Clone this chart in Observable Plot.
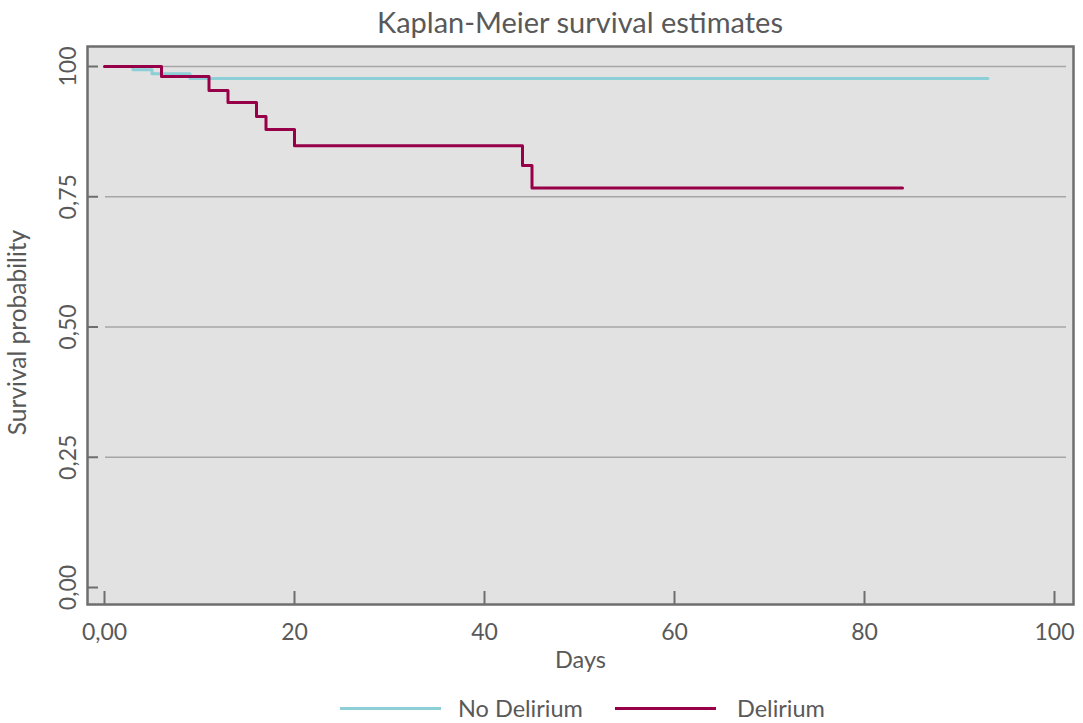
<!DOCTYPE html>
<html><head><meta charset="utf-8">
<script src="https://cdn.jsdelivr.net/npm/d3@7"></script>
<script src="https://cdn.jsdelivr.net/npm/@observablehq/plot@0.6"></script>
<style>
body{margin:0;background:#fff;font-family:Lato,sans-serif;color:#595959;width:1083px;height:723px;position:relative;overflow:hidden}
#title{position:absolute;left:87px;width:986px;top:0;height:44px;line-height:44px;text-align:center;font-size:29px;color:#595959}
#chart{position:absolute;left:0;top:40px}
#legend{position:absolute;top:694px;left:0;width:1083px;height:28px;font-size:23.5px;color:#595959}
.sw{position:absolute;top:13px;width:101px;height:3px}
.lt{position:absolute;top:0;line-height:28px;white-space:nowrap}
</style></head>
<body>
<div id="title">Kaplan-Meier survival estimates</div>
<div id="chart"></div>
<div id="legend"></div>
<script>
const xTicks = [0, 20, 40, 60, 80, 100];
const xTickLabels = ["0,00", "20", "40", "60", "80", "100"];
const yTicks = [0, 0.25, 0.5, 0.75, 1];
const yTickLabels = ["0,00", "0,25", "0,50", "0,75", "100"];
const gridValues = [0.25, 0.5, 0.75, 1];
const groups = ["No Delirium", "Delirium"];
const colors = ["#8ccfd6", "#970048"];
const noDelDays = [0, 3, 5, 9, 93];
const noDelSurv = [1, 0.994, 0.986, 0.977, 0.977];
const delDays = [0, 6, 11, 13, 16, 17, 20, 44, 45, 84];
const delSurv = [1, 0.981, 0.954, 0.931, 0.904, 0.879, 0.848, 0.810, 0.767, 0.767];

const rows = [
  ...noDelDays.map((d, i) => ({group: groups[0], day: d, surv: noDelSurv[i]})),
  ...delDays.map((d, i) => ({group: groups[1], day: d, surv: delSurv[i]}))
];

const axisColor = "#6e6e6e";
const textColor = "#595959";

const chart = Plot.plot({
  width: 1083, height: 640,
  marginLeft: 87, marginRight: 10, marginTop: 6, marginBottom: 76,
  x: {domain: [-1.79, 102], axis: null},
  y: {domain: [-0.0326, 1.0384], axis: null},
  color: {domain: groups, range: colors},
  style: {fontFamily: "Lato, sans-serif", fontSize: "22px", color: textColor, background: "transparent"},
  marks: [
    Plot.frame({fill: "#e2e2e2"}),
    Plot.ruleY(gridValues, {stroke: "#a6a6a6", strokeWidth: 1.3, insetLeft: 18, insetRight: 7}),
    Plot.ruleY(yTicks, {stroke: axisColor, strokeWidth: 2, insetRight: 975}),
    Plot.ruleX(xTicks, {stroke: axisColor, strokeWidth: 2, insetTop: 545}),
    Plot.line(rows, {x: "day", y: "surv", stroke: "group", z: "group", curve: "step-after", strokeWidth: 3}),
    Plot.frame({stroke: axisColor, strokeWidth: 2.5}),
    Plot.text(yTicks, {y: d => d, text: (d, i) => yTickLabels[i], frameAnchor: "left", rotate: -90, dx: -19, textAnchor: "middle", lineAnchor: "middle", fill: textColor, fontSize: 23}),
    Plot.text(xTicks, {x: d => d, text: (d, i) => xTickLabels[i], frameAnchor: "bottom", dy: 28, lineAnchor: "middle", fill: textColor, fontSize: 23}),
    Plot.text(["Days"], {frameAnchor: "bottom", dy: 56, lineAnchor: "middle", fill: textColor, fontSize: 23.5}),
    Plot.text(["Survival probability"], {frameAnchor: "left", rotate: -90, dx: -69, dy: 7, textAnchor: "middle", lineAnchor: "middle", fill: textColor, fontSize: 24.5})
  ]
});
document.getElementById("chart").appendChild(chart);

const legend = document.getElementById("legend");
const swatchLeft = [340, 615];
const textLeft = [458, 737];
groups.forEach((g, i) => {
  const sw = document.createElement("div");
  sw.className = "sw";
  sw.style.background = colors[i];
  sw.style.left = swatchLeft[i] + "px";
  const t = document.createElement("span");
  t.className = "lt";
  t.textContent = g;
  t.style.left = textLeft[i] + "px";
  legend.appendChild(sw);
  legend.appendChild(t);
});
</script>
</body></html>
